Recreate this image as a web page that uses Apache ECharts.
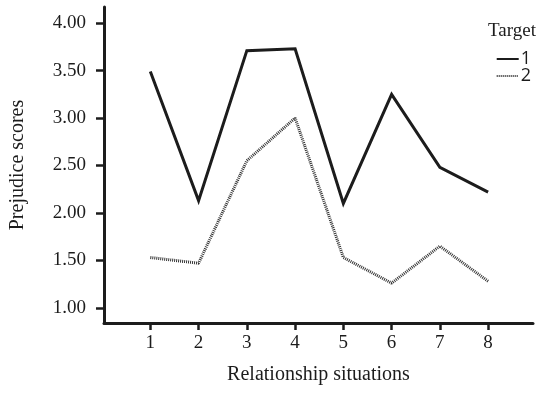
<!DOCTYPE html>
<html>
<head>
<meta charset="utf-8">
<script src="https://cdn.jsdelivr.net/npm/echarts@6/dist/echarts.min.js"></script>
<style>
html,body{margin:0;padding:0;background:#fff;}
#chart{width:544px;height:394px;}
</style>
</head>
<body>
<div id="chart"></div>
<script>
const situations = [1, 2, 3, 4, 5, 6, 7, 8];
const target1 = [3.49, 2.13, 3.71, 3.73, 2.10, 3.25, 2.48, 2.22];
const target2 = [1.53, 1.47, 2.55, 3.00, 1.53, 1.26, 1.65, 1.28];
const yTicks = [1.00, 1.50, 2.00, 2.50, 3.00, 3.50, 4.00];
const seriesNames = ['1', '2'];

const serif = 'Liberation Serif';
const sans = 'Open Sans';
const ink = '#1c1c1c';

const chart = echarts.init(document.getElementById('chart'), null, {renderer: 'canvas'});
chart.setOption({
  animation: false,
  backgroundColor: '#fff',
  textStyle: {fontFamily: serif, color: ink},
  grid: {left: 102, right: 11, top: 7, bottom: 71, containLabel: false},
  title: {
    text: 'Target', right: 3, top: 17,
    textStyle: {fontFamily: serif, fontSize: 19, fontWeight: 'normal', color: ink}
  },
  legend: {
    orient: 'vertical', right: 8, top: 45, itemWidth: 22, itemHeight: 12, itemGap: -1,
    itemStyle: {opacity: 0},
    textStyle: {fontFamily: sans, fontSize: 18, color: ink, padding: [0, 0, 0, -3]},
    data: seriesNames
  },
  xAxis: {
    type: 'value', min: 0.04, max: 8.93,
    name: 'Relationship situations', nameLocation: 'middle', nameGap: 42,
    nameTextStyle: {fontFamily: serif, fontSize: 20, color: ink},
    axisLine: {show: true, onZero: false, lineStyle: {color: ink, width: 3}},
    axisTick: {show: true, length: 7, customValues: situations, lineStyle: {color: ink, width: 2.5}},
    axisLabel: {customValues: situations, margin: 11, fontFamily: serif, fontSize: 19, color: ink},
    splitLine: {show: false}
  },
  yAxis: {
    type: 'value', min: 0.84, max: 4.17,
    name: 'Prejudice scores', nameLocation: 'middle', nameGap: 76, nameRotate: 90,
    nameTextStyle: {fontFamily: serif, fontSize: 20, color: ink},
    axisLine: {show: true, onZero: false, lineStyle: {color: ink, width: 3}},
    axisTick: {show: true, length: 8, customValues: yTicks, lineStyle: {color: ink, width: 2.5}},
    axisLabel: {customValues: yTicks, margin: 18, fontFamily: serif, fontSize: 19, color: ink,
      formatter: v => v.toFixed(2)},
    splitLine: {show: false}
  },
  series: [
    {
      name: seriesNames[0], type: 'line', symbol: 'none',
      data: situations.map((s, i) => [s, target1[i]]),
      lineStyle: {color: ink, width: 3, type: 'solid', join: 'miter'},
      itemStyle: {color: ink}
    },
    {
      name: seriesNames[1], type: 'line', symbol: 'none',
      data: situations.map((s, i) => [s, target2[i]]),
      lineStyle: {color: '#333', width: 3, type: [1, 1]},
      itemStyle: {color: '#333'}
    }
  ]
});
</script>
</body>
</html>
